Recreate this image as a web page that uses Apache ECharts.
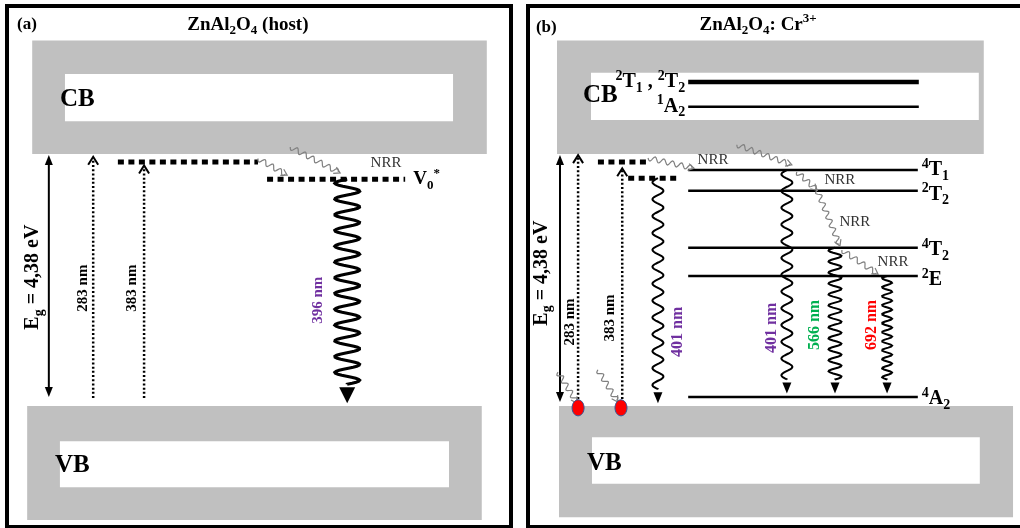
<!DOCTYPE html>
<html>
<head>
<meta charset="utf-8">
<script src="https://cdn.jsdelivr.net/npm/echarts@6/dist/echarts.min.js"></script>
<style>
  html, body { margin: 0; padding: 0; background: #fff; }
  #chart { width: 1020px; height: 528px; }
</style>
</head>
<body>
<div id="chart"></div>
<script>
// ---------------------------------------------------------------
// Energy-level schemes of ZnAl2O4 (host) and ZnAl2O4:Cr3+.
// Vertical axis: energy in eV measured from the top of the VB.
// Horizontal axis: nominal column position inside each panel.
// ---------------------------------------------------------------

const bandGap = 4.38;

// ---- panel (a): host ----
const bandsA = [
  { name: 'CB', x: [5.0, 95.2], E: [bandGap, 6.35], wx: [11.5, 88.5], wE: [4.95, 5.77] },
  { name: 'VB', x: [4.0, 94.2], E: [-1.98, 0], wx: [10.5, 87.7], wE: [-1.41, -0.61] }
];
const trapsA = [            // dotted defect levels
  { E: 4.24, x: [22.0, 49.8] },
  { E: 3.94, x: [51.6, 79.0] }      // V0*
];
const gapA = { x: 8.3, E: [0.16, 4.36] };
const excitationA = [       // dotted upward arrows
  { label: '283 nm', x: 17.1, E: [0.14, 4.33] },
  { label: '383 nm', x: 27.2, E: [0.14, 4.18] }
];
const emissionA = [         // radiative decay (wavy)
  { label: '396 nm', x: 67.5, E: [3.94, 0.05] }
];
const nrrA = [              // non-radiative relaxation [x0, E0, x1, E1]
  [49.8, 4.30, 55.6, 4.01],
  [56.2, 4.50, 66.1, 4.05]
];

// ---- panel (b): Cr3+ doped ----
const bandsB = [
  { name: 'CB', x: [5.85, 91.9], E: [bandGap, 6.35], wx: [12.7, 90.9], wE: [4.97, 5.79] },
  { name: 'VB', x: [6.25, 97.8], E: [-1.93, 0], wx: [12.9, 91.1], wE: [-1.35, -0.54] }
];
const cbLevels = [          // Cr3+ levels lying inside the CB
  { term: '{p|2}{n|T}{b|1}{n| , }{p|2}{n|T}{b|2}', E: 5.63, heavy: true },
  { term: '{p|1}{n|A}{b|2}', E: 5.20, heavy: false }
];
const crLevels = [          // Cr3+ levels inside the gap
  { term: '{p|4}{n|T}{b|1}', E: 4.10, labelE: 4.10 },
  { term: '{p|2}{n|T}{b|2}', E: 3.74, labelE: 3.67 },
  { term: '{p|4}{n|T}{b|2}', E: 2.75, labelE: 2.71 },
  { term: '{p|2}{n|E}', E: 2.26, labelE: 2.19 },
  { term: '{p|4}{n|A}{b|2}', E: 0.16, labelE: 0.12 }
];
const trapsB = [
  { E: 4.24, x: [14.1, 24.2] },
  { E: 3.96, x: [20.2, 30.0] }
];
const gapB = { x: 6.45, E: [0.07, 4.36] };
const excitationB = [
  { label: '283 nm', x: 10.1, E: [0.05, 4.36] },
  { label: '383 nm', x: 19.0, E: [0.05, 4.13] }
];
const holesB = [ { x: 10.1, E: -0.03 }, { x: 18.75, E: -0.03 } ];
const emissionB = [
  { label: '401 nm', x: 26.2, E: [3.96, 0.05], color: '#7030A0' },
  { label: '401 nm', x: 52.2, E: [4.10, 0.22], color: '#7030A0' },
  { label: '566 nm', x: 61.9, E: [2.75, 0.22], color: '#00B050', amp: 6.5, period: 11 },
  { label: '692 nm', x: 72.4, E: [2.26, 0.22], color: '#FF0000', amp: 5, period: 9 }
];
const nrrB = [
  [24.2, 4.31, 33.5, 4.13],
  [42.1, 4.54, 53.2, 4.19],
  [54.2, 4.07, 58.3, 3.75],
  [58.3, 3.75, 62.9, 2.78],
  [63.3, 2.71, 70.6, 2.29],
  [6.05, 0.59, 9.9, 0.05],
  [14.1, 0.63, 18.1, 0.07]
];

// ---------------------------------------------------------------
// drawing styles
const SERIF = "'Liberation Serif', 'Times New Roman', serif";
const GREY = '#C0C0C0';
const PURPLE = '#7030A0';

function rich(size, weight, color) {
  const sub = Math.round(size * 0.68);
  const base = { fontFamily: SERIF, fontWeight: weight, fill: color };
  return {
    n: Object.assign({}, base, { fontSize: size, lineHeight: Math.round(size * 1.3) }),
    b: Object.assign({}, base, { fontSize: sub, verticalAlign: 'bottom', lineHeight: sub }),
    p: Object.assign({}, base, { fontSize: sub, verticalAlign: 'top', lineHeight: sub })
  };
}

function textEl(api, x, E, str, opt) {
  const p = api.coord([x, E]);
  return {
    type: 'text', x: p[0], y: p[1],
    rotation: (opt.rot || 0) * Math.PI / 180,
    style: {
      text: str,
      rich: rich(opt.size, opt.weight || 'bold', opt.color || '#000'),
      align: opt.align || 'center',
      verticalAlign: 'middle'
    }
  };
}

// sine path between two pixel points, ending on the centre line
function wave(p0, p1, amp, period, tail) {
  const dx = p1[0] - p0[0], dy = p1[1] - p0[1];
  const L = Math.hypot(dx, dy);
  const ux = dx / L, uy = dy / L, nx = -uy, ny = ux;
  const len = Math.max(1, L - tail);
  const halves = Math.max(1, Math.round(2 * len / period));
  const per = 2 * len / halves;
  const pts = [];
  const steps = Math.ceil(len);
  for (let i = 0; i <= steps; i++) {
    const s = len * i / steps;
    const w = amp * Math.sin(2 * Math.PI * s / per);
    pts.push([p0[0] + ux * s + nx * w, p0[1] + uy * s + ny * w]);
  }
  pts.push([p1[0] - ux * (tail * 0.999), p1[1] - uy * (tail * 0.999)]);
  return { pts, ux, uy, nx, ny };
}

function filledHead(tip, ux, uy, len, half, color) {
  const bx = tip[0] - ux * len, by = tip[1] - uy * len;
  return {
    type: 'polygon',
    shape: { points: [tip, [bx - uy * half, by + ux * half], [bx + uy * half, by - ux * half]] },
    style: { fill: color }
  };
}

function openHead(tip, ux, uy, len, half, color, lw) {
  const bx = tip[0] - ux * len, by = tip[1] - uy * len;
  return {
    type: 'polyline',
    shape: { points: [[bx - uy * half, by + ux * half], tip, [bx + uy * half, by - ux * half]] },
    style: { stroke: color, lineWidth: lw, fill: 'none' }
  };
}

// ---- renderers ----
function drawBand(d, api) {
  const a = api.coord([d.x[0], d.E[1]]), b = api.coord([d.x[1], d.E[0]]);
  const c = api.coord([d.wx[0], d.wE[1]]), e = api.coord([d.wx[1], d.wE[0]]);
  return {
    type: 'group', children: [
      { type: 'rect', shape: { x: a[0], y: a[1], width: b[0] - a[0], height: b[1] - a[1] }, style: { fill: GREY } },
      { type: 'rect', shape: { x: c[0], y: c[1], width: e[0] - c[0], height: e[1] - c[1] }, style: { fill: '#fff' } }
    ]
  };
}

function drawTrap(d, api) {
  const a = api.coord([d.x[0], d.E]), b = api.coord([d.x[1], d.E]);
  return {
    type: 'line', shape: { x1: a[0], y1: a[1], x2: b[0], y2: b[1] },
    style: { stroke: '#000', lineWidth: 5, lineDash: [6, 4.5], lineCap: 'butt' }
  };
}

function drawGap(d, api) {
  const a = api.coord([d.x, d.E[0]]), b = api.coord([d.x, d.E[1]]);
  return {
    type: 'group', children: [
      { type: 'line', shape: { x1: a[0], y1: a[1] - 6, x2: b[0], y2: b[1] + 6 }, style: { stroke: '#000', lineWidth: 2 } },
      filledHead(b, 0, -1, 10, 4, '#000'),
      filledHead(a, 0, 1, 10, 4, '#000')
    ]
  };
}

function drawExcitation(d, api) {
  const a = api.coord([d.x, d.E[0]]), b = api.coord([d.x, d.E[1]]);
  return {
    type: 'group', children: [
      { type: 'line', shape: { x1: a[0], y1: a[1], x2: b[0], y2: b[1] + 2 },
        style: { stroke: '#000', lineWidth: 2.5, lineDash: [2, 2.2] } },
      openHead(b, 0, -1, 8, 5, '#000', 2)
    ]
  };
}

function emissionDrawer(amp, period, lw, headLen, headHalf) {
  return function (d, api) {
    const a = api.coord([d.x, d.E[0]]), b = api.coord([d.x, d.E[1]]);
    const w = wave(a, b, d.amp || amp, d.period || period, headLen + 3);
    return {
      type: 'group', children: [
        { type: 'polyline', shape: { points: w.pts }, style: { stroke: '#000', lineWidth: lw, fill: 'none' } },
        filledHead(b, w.ux, w.uy, headLen, headHalf, '#000')
      ]
    };
  };
}

function drawNrr(d, api) {
  const a = api.coord([d[0], d[1]]), b = api.coord([d[2], d[3]]);
  const w = wave(a, b, 2.6, 9, 2);
  return {
    type: 'group', children: [
      { type: 'polyline', shape: { points: w.pts }, style: { stroke: '#808080', lineWidth: 1.2, fill: 'none' } },
      openHead(b, w.ux, w.uy, 6, 3.5, '#808080', 1.2)
    ]
  };
}

function drawLevel(xr, lwFn) {
  return function (d, api) {
    const a = api.coord([xr[0], d.E]), b = api.coord([xr[1], d.E]);
    return {
      type: 'line', shape: { x1: a[0], y1: a[1], x2: b[0], y2: b[1] },
      style: { stroke: '#000', lineWidth: lwFn(d) }
    };
  };
}

function drawHole(d, api) {
  const p = api.coord([d.x, d.E]);
  return {
    type: 'ellipse', shape: { cx: p[0], cy: p[1], rx: 6, ry: 8 },
    style: { fill: '#FF0000', stroke: '#2F5597', lineWidth: 1 }
  };
}

// open frame of panel (b): its right side runs past the page edge
function drawOpenFrame(d, api) {
  const tl = api.coord([0, Y_MAX]), bl = api.coord([0, Y_MIN]);
  const far = api.getWidth() + 10;
  return {
    type: 'polyline',
    shape: { points: [[far, tl[1]], [tl[0], tl[1]], [bl[0], bl[1]], [far, bl[1]]] },
    style: { stroke: '#000', lineWidth: 4, fill: 'none', lineJoin: 'miter' }
  };
}

function drawText(d, api) { return textEl(api, d.x, d.E, d.s, d); }

function layer(gi, items, draw, z) {
  return {
    type: 'custom', coordinateSystem: 'cartesian2d',
    xAxisIndex: gi, yAxisIndex: gi, silent: true, z: z, clip: false,
    data: items.map(() => [0, 0]),
    renderItem: (params, api) => draw(items[params.dataIndex], api)
  };
}

// ---- text items ----
const textsA = [
  { x: 2.0, E: 6.62, s: '{n|(a)}', size: 17, align: 'left' },
  { x: 47.8, E: 6.62, s: '{n|ZnAl}{b|2}{n|O}{b|4}{n| (host)}', size: 19 },
  { x: 10.5, E: 5.32, s: '{n|CB}', size: 25, align: 'left' },
  { x: 9.5, E: -1.04, s: '{n|VB}', size: 25, align: 'left' },
  { x: 5.2, E: 2.24, s: '{n|E}{b|g}{n| = 4,38 eV}', size: 20, rot: 90 },
  { x: 75.2, E: 4.22, s: '{n|NRR}', size: 15, weight: 'normal', color: '#333' },
  { x: 80.6, E: 3.94, s: '{n|V}{b|0}{p|*}', size: 19, align: 'left' }
].concat(
  excitationA.map((d, i) => ({ x: [15.1, 24.8][i], E: 2.05, s: '{n|' + d.label + '}', size: 15, rot: 90 })),
  emissionA.map(d => ({ x: 61.7, E: 1.84, s: '{n|' + d.label + '}', size: 15, rot: 90, color: PURPLE }))
);

const nrrLabelsB = [[37.3, 4.27], [62.9, 3.93], [65.9, 3.20], [73.6, 2.50]];
const emissionLabelPosB = [[30.2, 1.29], [49.2, 1.36], [57.9, 1.41], [69.4, 1.41]];
const textsB = [
  { x: 1.6, E: 6.57, s: '{n|(b)}', size: 17, align: 'left' },
  { x: 46.4, E: 6.62, s: '{n|ZnAl}{b|2}{n|O}{b|4}{n|: Cr}{p|3+}', size: 19 },
  { x: 11.1, E: 5.40, s: '{n|CB}', size: 25, align: 'left' },
  { x: 11.9, E: -0.99, s: '{n|VB}', size: 25, align: 'left' },
  { x: 2.8, E: 2.31, s: '{n|E}{b|g}{n| = 4,38 eV}', size: 20, rot: 90 }
].concat(
  excitationB.map((d, i) => ({ x: [8.5, 16.5][i], E: [1.46, 1.53][i], s: '{n|' + d.label + '}', size: 15, rot: 90 })),
  emissionB.map((d, i) => ({ x: emissionLabelPosB[i][0], E: emissionLabelPosB[i][1], s: '{n|' + d.label + '}', size: 16, rot: 90, color: d.color })),
  nrrLabelsB.map(p => ({ x: p[0], E: p[1], s: '{n|NRR}', size: 15, weight: 'normal', color: '#333' })),
  cbLevels.map(d => ({ x: 31.7, E: d.E, s: d.term, size: 20, align: 'right' })),
  crLevels.map(d => ({ x: 79.4, E: d.labelE, s: d.term, size: 20, align: 'left' }))
);

// ---- chart ----
const Y_MIN = -2.1, Y_MAX = 6.95;
const chart = echarts.init(document.getElementById('chart'), null, { renderer: 'canvas' });

const option = {
  animation: false,
  backgroundColor: '#fff',
  grid: [
    { left: 7, top: 6, width: 504, height: 521, show: true, borderColor: '#000', borderWidth: 4, backgroundColor: '#fff' },
    { left: 528, top: 6, width: 489, height: 521, show: false }
  ],
  xAxis: [
    { type: 'value', gridIndex: 0, min: 0, max: 100, show: false },
    { type: 'value', gridIndex: 1, min: 0, max: 98.6, show: false }
  ],
  yAxis: [0, 1].map(i => ({ type: 'value', gridIndex: i, min: Y_MIN, max: Y_MAX, show: false })),
  series: [
    // (a)
    layer(0, bandsA, drawBand, 1),
    layer(0, trapsA, drawTrap, 3),
    layer(0, [gapA], drawGap, 4),
    layer(0, excitationA, drawExcitation, 4),
    layer(0, emissionA, emissionDrawer(12.5, 15.5, 3, 16, 8), 4),
    layer(0, nrrA, drawNrr, 4),
    layer(0, textsA, drawText, 6),
    // (b)
    layer(1, [{}], drawOpenFrame, 7),
    layer(1, bandsB, drawBand, 1),
    layer(1, cbLevels, drawLevel([32.3, 78.8], d => d.heavy ? 4.5 : 2.5), 3),
    layer(1, crLevels, drawLevel([32.3, 78.6], () => 2.5), 3),
    layer(1, trapsB, drawTrap, 3),
    layer(1, [gapB], drawGap, 4),
    layer(1, excitationB, drawExcitation, 4),
    layer(1, emissionB, emissionDrawer(5.5, 17, 2, 11, 4.5), 4),
    layer(1, nrrB, drawNrr, 4),
    layer(1, holesB, drawHole, 5),
    layer(1, textsB, drawText, 6)
  ]
};

chart.setOption(option);
</script>
</body>
</html>
